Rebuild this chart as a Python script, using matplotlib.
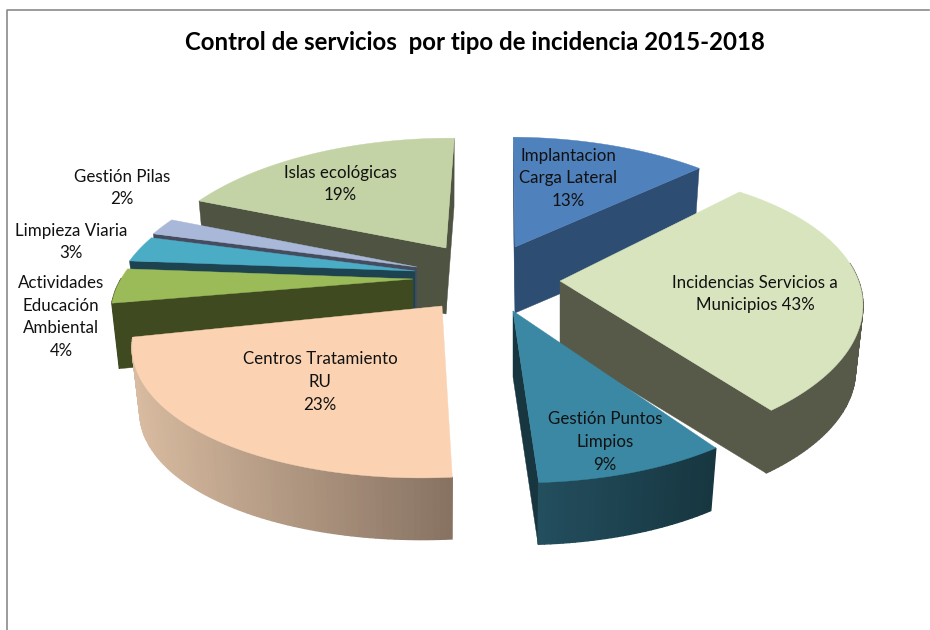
import numpy as np
import matplotlib
matplotlib.use("Agg")
import matplotlib.pyplot as plt
from matplotlib.colors import to_rgb

TITLE = "Control de servicios  por tipo de incidencia 2015-2018"

# share of the circle each slice really takes
slice_names = ["Implantacion\nCarga Lateral", "Incidencias Servicios a\nMunicipios", "Gestión Puntos\nLimpios",
               "Centros Tratamiento\nRU", "Actividades\nEducación\nAmbiental", "Limpieza Viaria",
               "Gestión Pilas", "Islas ecológicas"]
slice_shares = [13, 27.5, 8.5, 23, 4, 3, 2, 19]
# percentages as printed on the chart
printed_pct = [13, 43, 9, 23, 4, 3, 2, 19]

top_colors = ["#4F81BD", "#D7E4BD", "#3A88A3", "#FBD3B3", "#9BBB59", "#4BACC6", "#A9B8D8", "#C3D3A6"]
side_left = ["#2E4D72", "#575A49", "#234E5E", "#D8BBA0", "#3F4A20", "#1E4350", "#464C60", "#4F5442"]
side_right = ["#2E4D72", "#575A49", "#173640", "#877262", "#3F4A20", "#1E4350", "#464C60", "#4F5442"]

# layout: pie centre in pixels, explode offset of each slice, label centres
CX, CY = 470, 275
VX = 480
explode_dx = [45, 90, 43, -28, -57, -55, -53, -24]
explode_dy = [-28, 6, 36, 31, 4, -4, -8, -27]
# small per slice corrections of the rim, the original perspective is not quite regular
stretch_x = [1, 1, 1, 1.03, 1, 1, 1, 1]
skew_y = [0, -14, 0, -7, 0, 0, 0, 0]
label_x = [568, 755, 605, 320, 61, 71, 122, 340]
label_y = [178, 294, 442, 382, 317, 242, 188, 184]
RX, RY, PERSP = 292, 134, 0.22
DEPTH = 66
BOTTOM_SCALE = 0.975
START_DEG = 0.8
draw_order = [7, 6, 5, 4, 0, 1, 2, 3]


def rim(theta, i, lower=False):
    """point on the pie edge of slice i, theta clockwise from the top, in radians"""
    tx, ty = CX + explode_dx[i], CY + explode_dy[i]
    near = -np.cos(theta)
    s = 1 / (1 - PERSP * near)
    x = RX * stretch_x[i] * np.sin(theta) * s + (tx - VX) * (s - 1) * 0.8
    y = RY * near * s + skew_y[i] * np.sin(theta)
    if lower:
        return tx + x * BOTTOM_SCALE, ty + y * BOTTOM_SCALE + DEPTH
    return tx + x, ty + y


fig = plt.figure(figsize=(9.3, 6.3), dpi=100)
ax = fig.add_axes([0, 0, 1, 1])
ax.set_xlim(0, 930)
ax.set_ylim(630, 0)
ax.axis("off")
plt.rcParams["font.family"] = ["Lato", "DejaVu Sans"]

# chart frame
ax.plot([7, 7, 929], [630, 10, 10], color="#8A8A8A", lw=1.2)

edges = np.radians(START_DEG) + np.cumsum([0] + slice_shares) / sum(slice_shares) * 2 * np.pi

for i in draw_order:
    tx, ty = CX + explode_dx[i], CY + explode_dy[i]
    t0, t1 = edges[i], edges[i + 1]
    # flat cut faces, only the ones turned towards the viewer
    if np.sin(t0) < 0.03:
        x1, y1 = rim(t0, i)
        x2, y2 = rim(t0, i, lower=True)
        ax.fill([tx, x1, x2, tx], [ty, y1, y2, ty + DEPTH], color=side_left[i], lw=0.3)
    if np.sin(t1) > -0.03:
        x1, y1 = rim(t1, i)
        x2, y2 = rim(t1, i, lower=True)
        ax.fill([tx, x1, x2, tx], [ty, y1, y2, ty + DEPTH], color=side_right[i], lw=0.3)
    # outer wall, cut into short strips for the shading
    tt = np.linspace(t0, t1, max(int((t1 - t0) * 60), 6))
    xs = [rim(t, i)[0] for t in tt]
    lo, hi = min(xs), max(xs)
    c0, c1 = np.array(to_rgb(side_left[i])), np.array(to_rgb(side_right[i]))
    for a, b in zip(tt[:-1], tt[1:]):
        if np.cos(b) > 0.02:
            continue  # back of the pie, hidden
        xa, ya = rim(a, i)
        xb, yb = rim(b, i)
        xc, yc = rim(b, i, lower=True)
        xd, yd = rim(a, i, lower=True)
        f = ((xa + xb) / 2 - lo) / (hi - lo)
        col = c0 + (c1 - c0) * f
        ax.fill([xa, xb, xc, xd], [ya, yb, yc, yd], color=col, lw=1.0)
    # top face
    tt = np.linspace(t0, t1, 80)
    px, py = rim(tt, i)
    ax.fill(np.r_[tx, px], np.r_[ty, py], color=top_colors[i], lw=0.3)

for i in range(len(slice_names)):
    if i == 1:
        txt = f"{slice_names[i]} {printed_pct[i]}%"
    else:
        txt = f"{slice_names[i]}\n{printed_pct[i]}%"
    ax.text(label_x[i], label_y[i], txt, ha="center", va="center", fontsize=12.2, color="#111111",
            linespacing=1.5, zorder=5)

ax.text(475, 42, TITLE, ha="center", va="center", fontsize=17.3, fontweight="bold", color="black", zorder=5)

fig.savefig("out.png", dpi=100)
